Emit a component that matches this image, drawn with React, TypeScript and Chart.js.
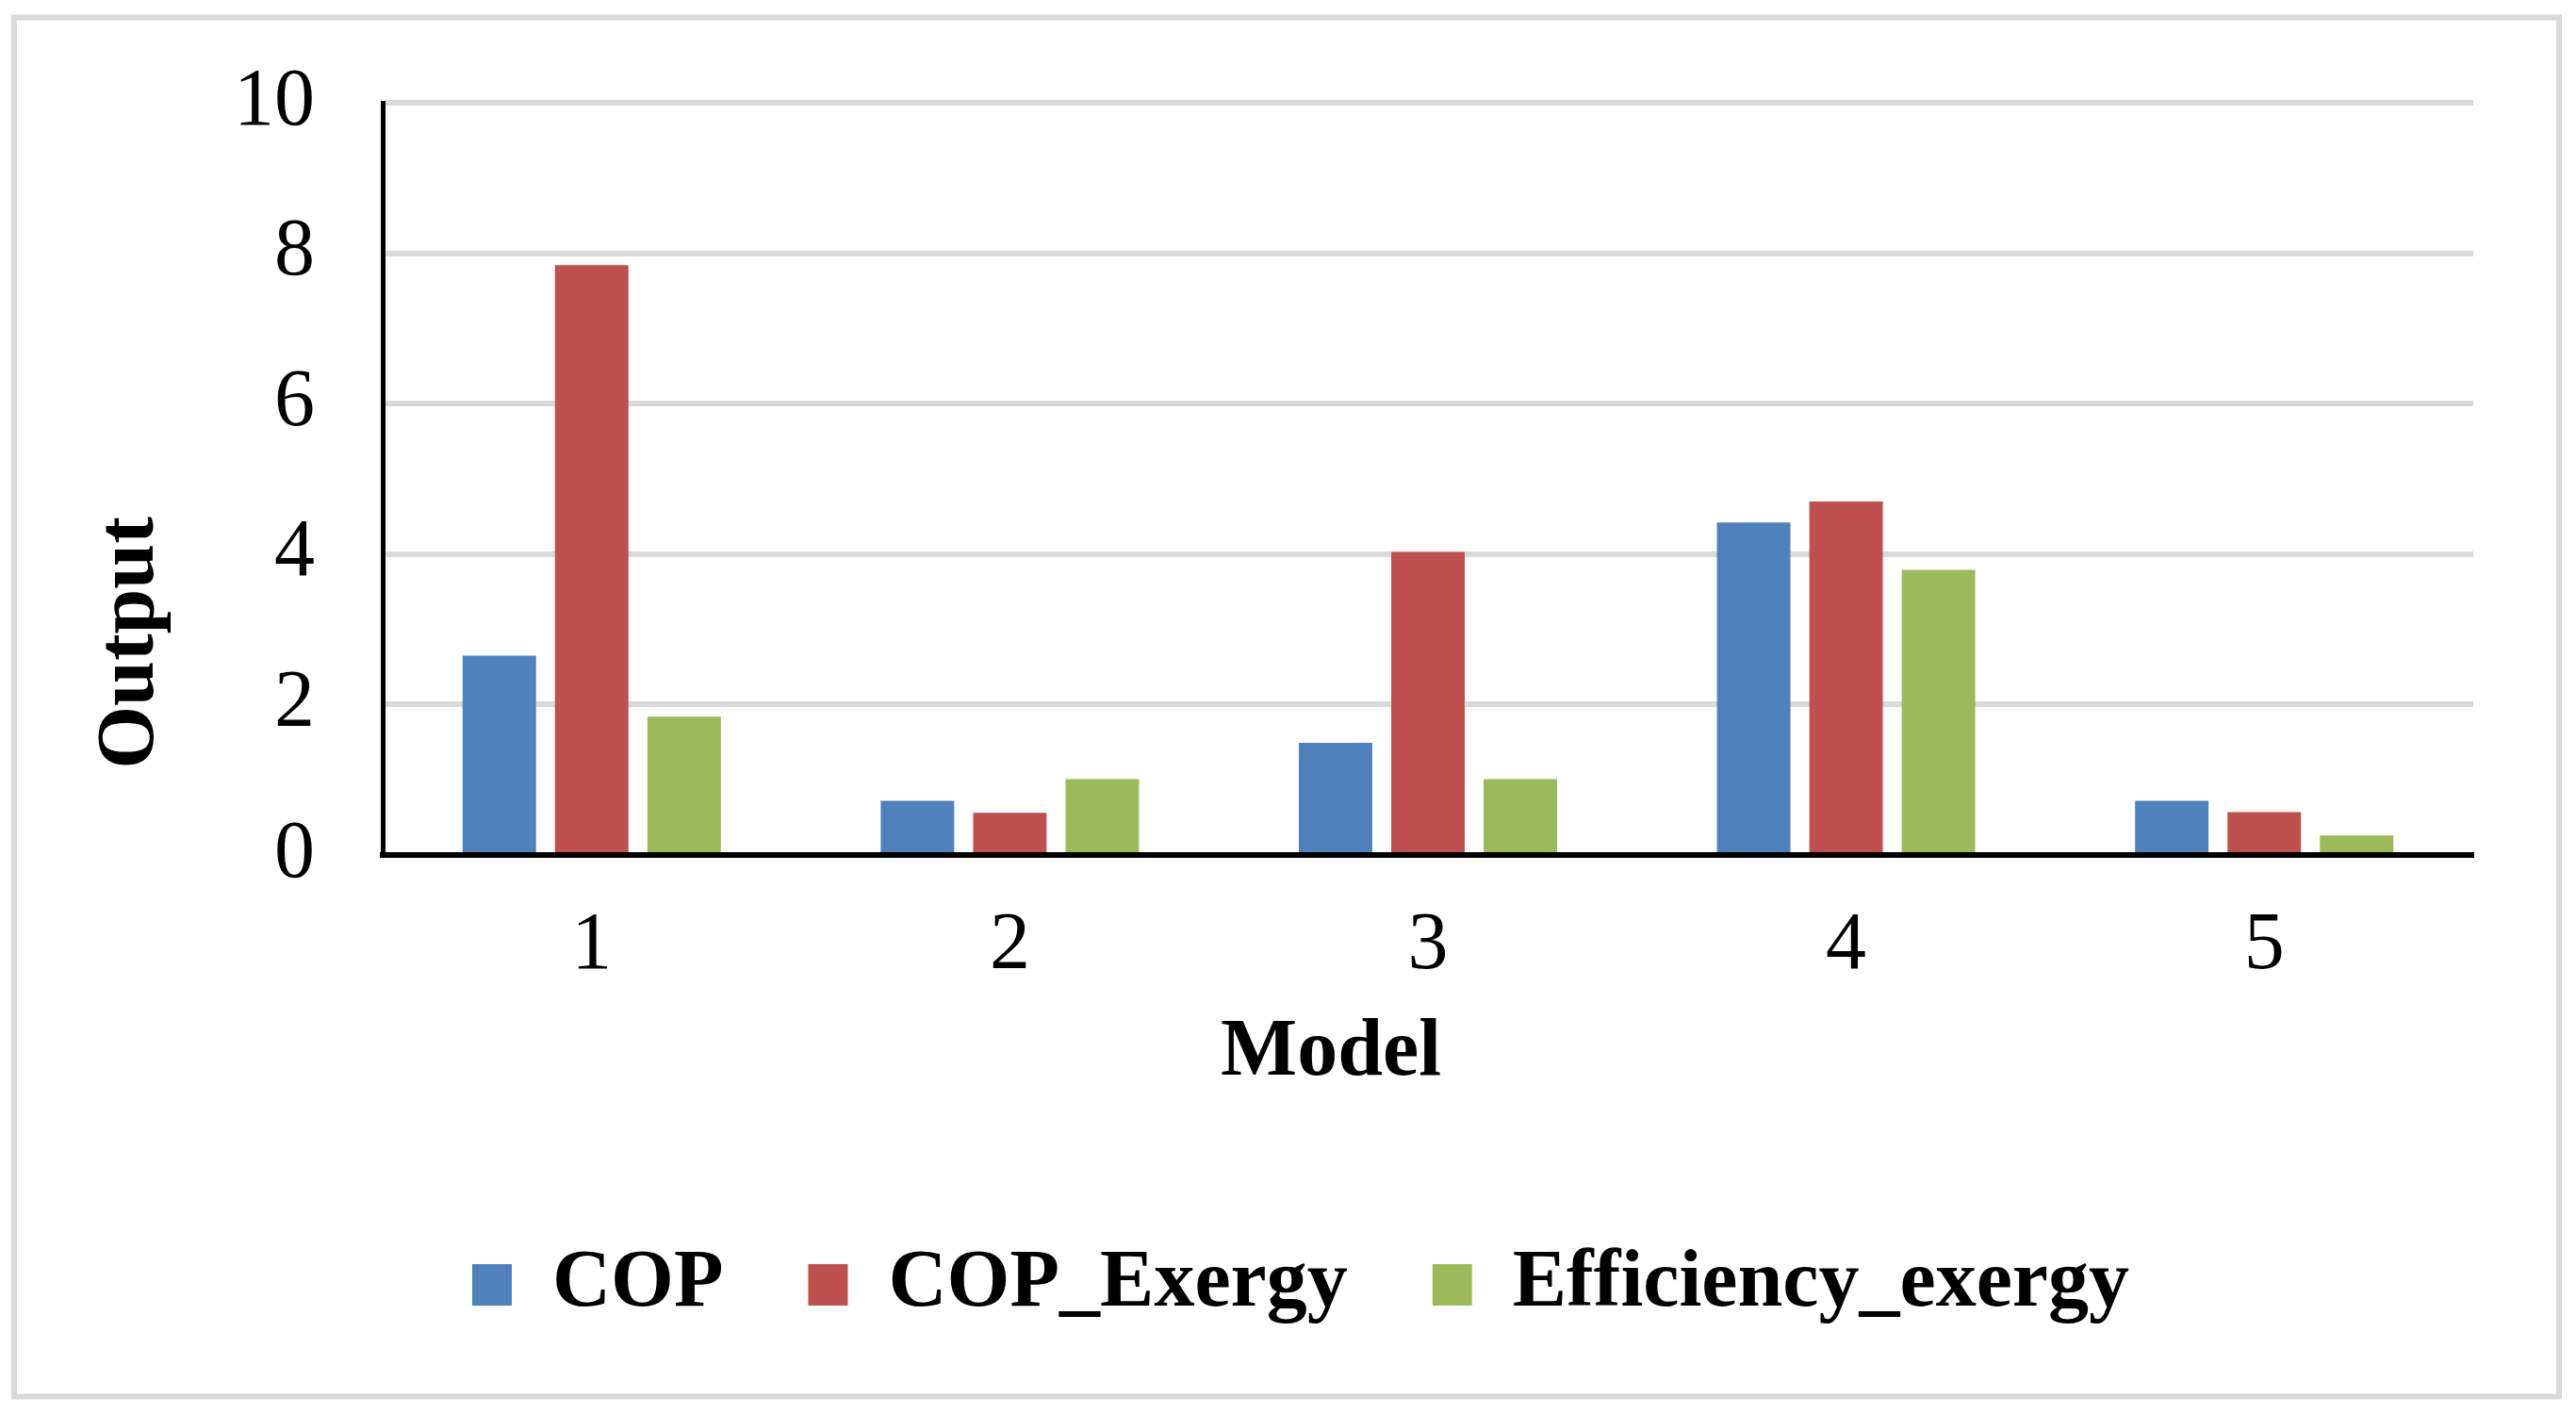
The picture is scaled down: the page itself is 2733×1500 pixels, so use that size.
import React, { useEffect, useRef } from "react";
import { Chart, registerables } from "chart.js";

Chart.register(...registerables);

// ---- data ----
const categories = ["1", "2", "3", "4", "5"];
const seriesNames = ["COP", "COP_Exergy", "Efficiency_exergy"];
const copValues = [2.65, 0.72, 1.49, 4.42, 0.72];
const copExergyValues = [7.84, 0.56, 4.03, 4.7, 0.57];
const efficiencyExergyValues = [1.84, 1.01, 1.01, 3.79, 0.26];
const yTicks = [0, 2, 4, 6, 8, 10];
const xAxisTitle = "Model";
const yAxisTitle = "Output";

const seriesColors = ["#4F81BD", "#C0504D", "#9BBB59"];
const FONT = "'Liberation Serif', 'Times New Roman', serif";

const framePlugin = {
  id: "frameAndTitles",
  beforeDraw(chart: any) {
    const ctx = chart.ctx;
    ctx.save();
    ctx.fillStyle = "#ffffff";
    ctx.fillRect(0, 0, chart.width, chart.height);
    ctx.strokeStyle = "#d9d9d9";
    ctx.lineWidth = 6;
    ctx.strokeRect(15, 18.5, 2700, 1463);
    ctx.restore();
  },
  afterDraw(chart: any) {
    const ctx = chart.ctx;
    ctx.save();
    ctx.fillStyle = "#000000";
    ctx.font = `bold 86px ${FONT}`;
    ctx.textAlign = "center";
    ctx.textBaseline = "middle";
    ctx.fillText(xAxisTitle, 1412, 1118);
    ctx.translate(140, 682);
    ctx.rotate(-Math.PI / 2);
    ctx.fillText(yAxisTitle, 0, 0);
    ctx.restore();
  },
};

export default function App() {
  const ref = useRef<HTMLCanvasElement | null>(null);

  useEffect(() => {
    if (!ref.current) return;
    const values = [copValues, copExergyValues, efficiencyExergyValues];
    const chart = new Chart(ref.current, {
      type: "bar",
      data: {
        labels: categories,
        datasets: seriesNames.map((name, i) => ({
          label: name,
          data: values[i],
          backgroundColor: seriesColors[i],
          borderWidth: 0,
          categoryPercentage: 0.663,
          barPercentage: 0.795,
        })),
      },
      options: {
        responsive: false,
        animation: false,
        devicePixelRatio: 1,
        layout: { padding: { left: 136, right: 109, top: 109, bottom: 84 } },
        plugins: {
          tooltip: { enabled: false },
          title: { display: false },
          legend: {
            display: true,
            position: "bottom",
            labels: {
              boxWidth: 42,
              boxHeight: 44,
              padding: 90,
              color: "#000000",
              font: { family: FONT, size: 86, weight: "bold" },
            },
          },
        },
        scales: {
          x: {
            type: "category",
            afterFit: (s: any) => {
              s.height = 323;
            },
            grid: { display: false, drawTicks: false },
            border: { display: true, color: "#000000", width: 6 },
            ticks: {
              color: "#000000",
              padding: 46,
              font: { family: FONT, size: 86 },
            },
          },
          y: {
            min: yTicks[0],
            max: yTicks[yTicks.length - 1],
            afterFit: (s: any) => {
              s.width = 270;
              s.paddingTop = 0;
              s.paddingBottom = 0;
            },
            afterBuildTicks: (s: any) => {
              s.ticks = yTicks.map((v) => ({ value: v }));
            },
            grid: { color: "#d9d9d9", lineWidth: 6, drawTicks: false },
            border: { display: true, color: "#000000", width: 5 },
            ticks: {
              color: "#000000",
              padding: 72,
              font: { family: FONT, size: 86 },
            },
          },
        },
      },
      plugins: [framePlugin],
    });
    return () => chart.destroy();
  }, []);

  return (
    <div style={{ position: "absolute", left: 0, top: 0, width: 2733, height: 1500 }}>
      <canvas ref={ref} width={2733} height={1500} style={{ display: "block" }} />
    </div>
  );
}
